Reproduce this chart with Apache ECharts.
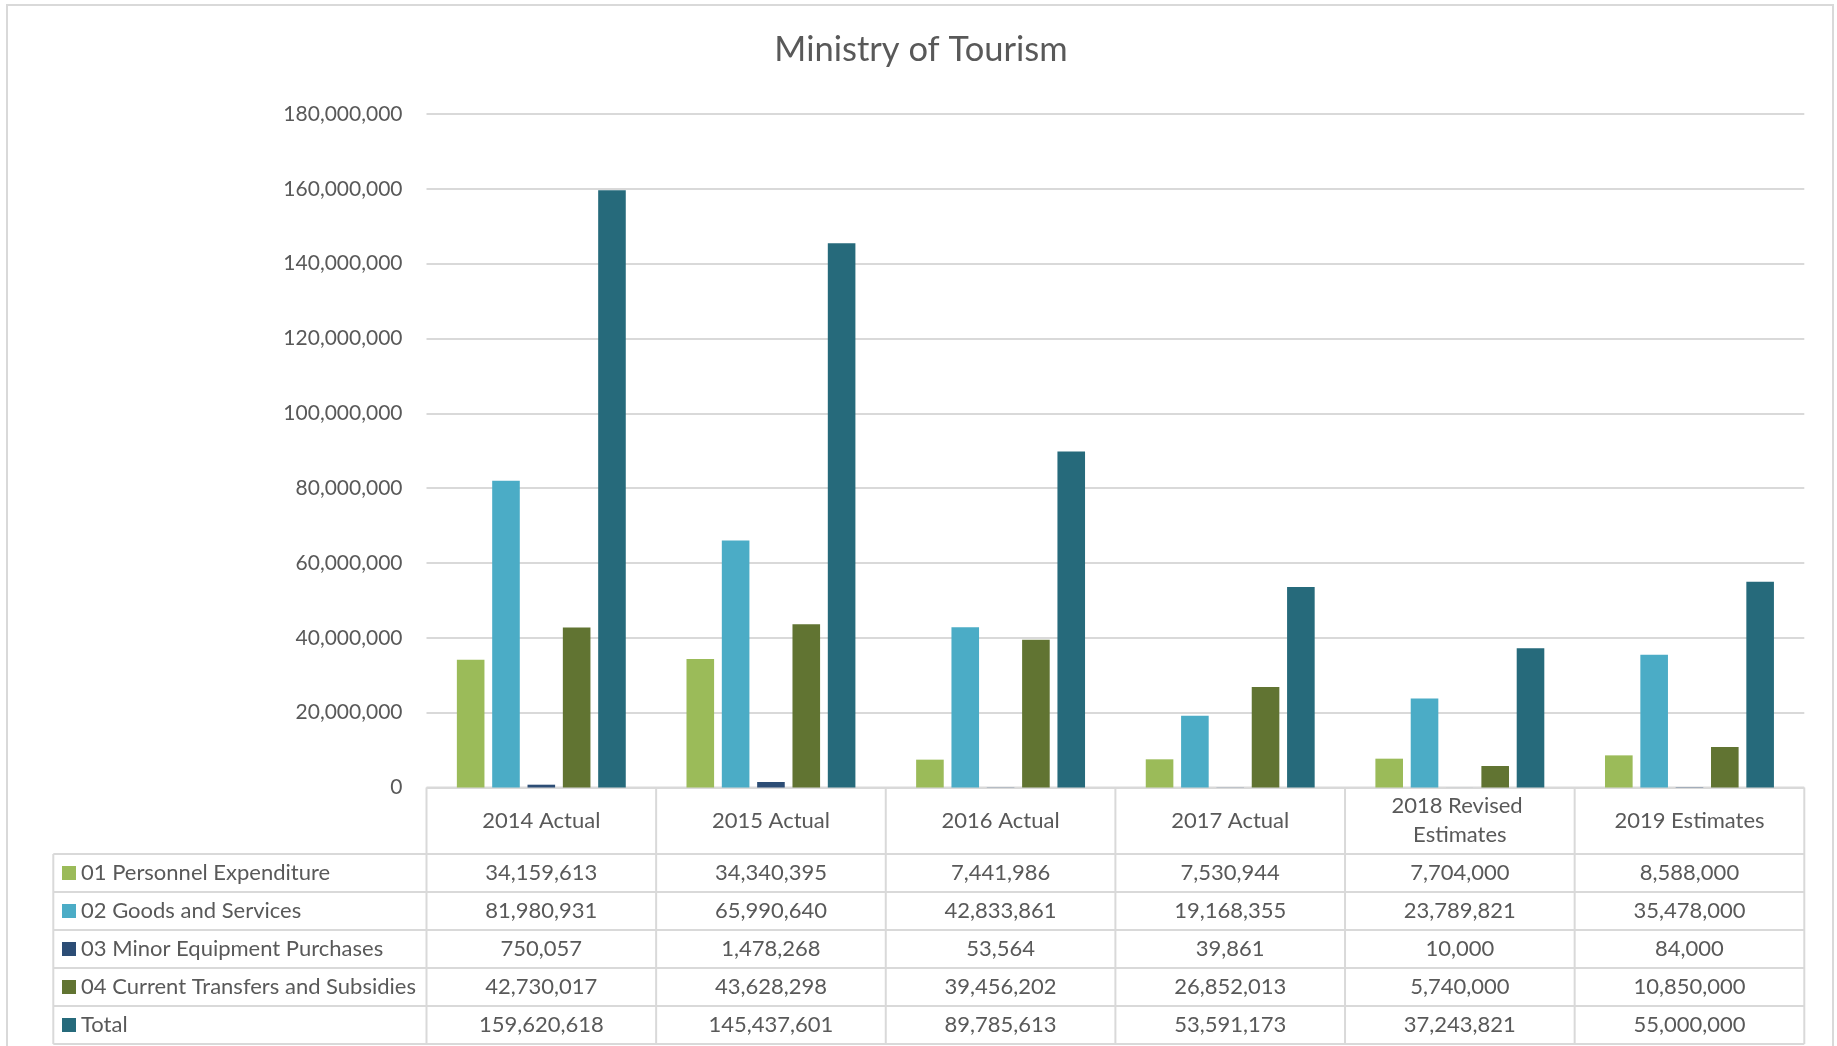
<!DOCTYPE html>
<html>
<head>
<meta charset="utf-8">
<script src="https://cdn.jsdelivr.net/npm/echarts@6/dist/echarts.min.js"></script>
<style>
html,body{margin:0;padding:0;background:#fff;}
#chart{width:1837px;height:1046px;}
</style>
</head>
<body>
<div id="chart"></div>
<script>
const categories = ['2014 Actual', '2015 Actual', '2016 Actual', '2017 Actual', '2018 Revised Estimates', '2019 Estimates'];
const seriesNames = ['01 Personnel Expenditure', '02 Goods and Services', '03 Minor Equipment Purchases', '04 Current Transfers and Subsidies', 'Total'];
const personnel = [34159613, 34340395, 7441986, 7530944, 7704000, 8588000];
const goods = [81980931, 65990640, 42833861, 19168355, 23789821, 35478000];
const minorEquipment = [750057, 1478268, 53564, 39861, 10000, 84000];
const transfers = [42730017, 43628298, 39456202, 26852013, 5740000, 10850000];
const total = [159620618, 145437601, 89785613, 53591173, 37243821, 55000000];
const yMin = 0, yMax = 180000000, yInterval = 20000000;

const seriesData = [personnel, goods, minorEquipment, transfers, total];
const colors = ['#9BBB59', '#4BACC6', '#2C4D75', '#617432', '#266A7B'];

const W = 1837, H = 1046;
const gridLeft = 426.5, gridRight = 1804.3, gridTop = 114, gridBottom = 787.5;
const headerBottom = 854, rowH = 38, legendLeft = 53.3;
const lineColor = '#D9D9D9', textColor = '#595959';
const FONT = 'Lato, "Open Sans", sans-serif';
const fs = 22;

const chart = echarts.init(document.getElementById('chart'), null, {renderer: 'canvas'});

const fmt = v => v.toLocaleString('en-US');
const colW = (gridRight - gridLeft) / categories.length;
const g = [];
// outer frame
g.push({type: 'rect', z: 0, shape: {x: 7, y: 5, width: 1826, height: 1060}, style: {fill: 'none', stroke: lineColor, lineWidth: 2}});
const tableBottom = headerBottom + rowH * seriesNames.length;
// horizontal lines
g.push({type: 'line', shape: {x1: gridLeft, y1: gridBottom, x2: gridRight, y2: gridBottom}, style: {stroke: lineColor, lineWidth: 2}});
for (let r = 0; r <= seriesNames.length; r++) {
  const y = headerBottom + r * rowH;
  g.push({type: 'line', shape: {x1: legendLeft, y1: y, x2: gridRight, y2: y}, style: {stroke: lineColor, lineWidth: 2}});
}
// vertical lines
g.push({type: 'line', shape: {x1: legendLeft, y1: headerBottom, x2: legendLeft, y2: tableBottom}, style: {stroke: lineColor, lineWidth: 2}});
for (let c = 0; c <= categories.length; c++) {
  const x = gridLeft + c * colW;
  g.push({type: 'line', shape: {x1: x, y1: gridBottom, x2: x, y2: tableBottom}, style: {stroke: lineColor, lineWidth: 2}});
}
// header texts
categories.forEach((cat, c) => {
  g.push({type: 'text', style: {text: cat, x: gridLeft + (c + 0.5) * colW, y: (gridBottom + headerBottom) / 2,
    align: 'center', verticalAlign: 'middle', width: 170, overflow: 'break', lineHeight: 29,
    fontSize: fs, fontFamily: FONT, fill: textColor}});
});
// rows
seriesNames.forEach((name, r) => {
  const cy = headerBottom + r * rowH + rowH / 2;
  g.push({type: 'rect', shape: {x: 62, y: cy - 7, width: 14, height: 14}, style: {fill: colors[r]}});
  g.push({type: 'text', style: {text: name, x: 81, y: cy, align: 'left', verticalAlign: 'middle',
    fontSize: fs, fontFamily: FONT, fill: textColor}});
  seriesData[r].forEach((v, c) => {
    g.push({type: 'text', style: {text: fmt(v), x: gridLeft + (c + 0.5) * colW, y: cy, align: 'center', verticalAlign: 'middle',
      fontSize: fs, fontFamily: FONT, fill: textColor}});
  });
});

const option = {
  backgroundColor: '#fff',
  animation: false,
  title: {
    text: 'Ministry of Tourism', left: 916, top: 27, textAlign: 'center',
    textStyle: {fontFamily: FONT, fontSize: 34.5, fontWeight: 'normal', color: textColor}
  },
  grid: {left: gridLeft, right: W - gridRight, top: gridTop, bottom: H - gridBottom, containLabel: false},
  xAxis: {
    type: 'category', data: categories,
    axisLine: {show: false}, axisTick: {show: false}, axisLabel: {show: false}, splitLine: {show: false}
  },
  yAxis: {
    type: 'value', min: yMin, max: yMax, interval: yInterval,
    axisLine: {show: false}, axisTick: {show: false},
    axisLabel: {margin: 24, fontFamily: FONT, fontSize: 21, color: textColor, formatter: v => fmt(v)},
    splitLine: {lineStyle: {color: lineColor, width: 2}}
  },
  series: seriesNames.map((name, i) => ({
    name: name, type: 'bar', data: seriesData[i], barWidth: 27.6, barGap: '28%',
    itemStyle: {color: colors[i]}
  })),
  graphic: {elements: g}
};
chart.setOption(option);
</script>
</body>
</html>
